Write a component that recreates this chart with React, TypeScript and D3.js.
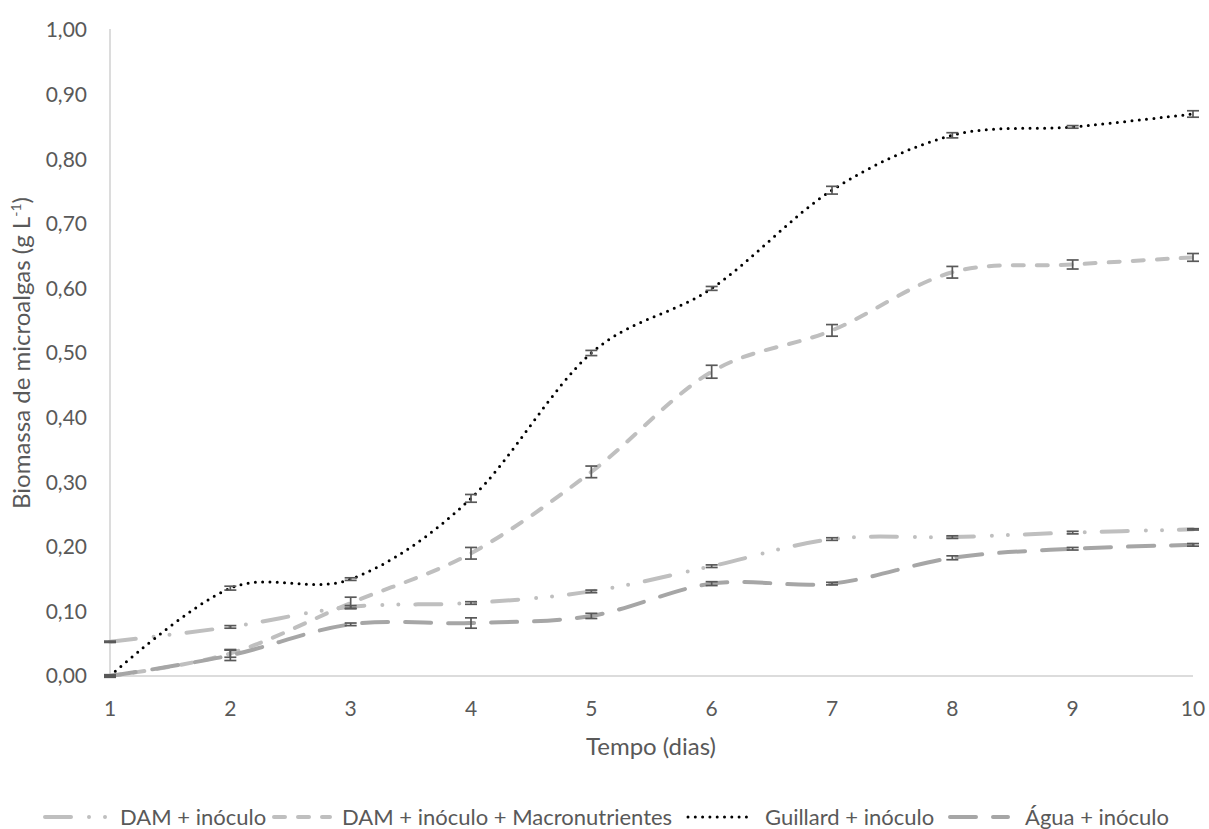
import React from "react";
import * as d3 from "d3";

const days = [1, 2, 3, 4, 5, 6, 7, 8, 9, 10];
const damInoculo = [0.053, 0.076, 0.107, 0.113, 0.131, 0.170, 0.212, 0.215, 0.222, 0.227];
const damInoculoErr = [0.001, 0.002, 0.002, 0.002, 0.002, 0.002, 0.002, 0.002, 0.002, 0.001];
const damMacro = [0.0, 0.035, 0.113, 0.190, 0.316, 0.471, 0.535, 0.625, 0.637, 0.648];
const damMacroErr = [0.001, 0.006, 0.009, 0.009, 0.009, 0.010, 0.009, 0.009, 0.007, 0.006];
const guillard = [0.0, 0.136, 0.150, 0.275, 0.500, 0.600, 0.752, 0.837, 0.850, 0.870];
const guillardErr = [0.002, 0.003, 0.002, 0.006, 0.004, 0.003, 0.006, 0.004, 0.002, 0.005];
const agua = [0.0, 0.032, 0.080, 0.082, 0.093, 0.143, 0.143, 0.183, 0.197, 0.203];
const aguaErr = [0.001, 0.008, 0.002, 0.008, 0.004, 0.003, 0.002, 0.003, 0.002, 0.002];
const yTicks = [0, 0.1, 0.2, 0.3, 0.4, 0.5, 0.6, 0.7, 0.8, 0.9, 1.0];

const seriesNames = [
  "DAM + inóculo",
  "DAM + inóculo + Macronutrientes",
  "Guillard + inóculo",
  "Água + inóculo",
];

export default function App() {
  const width = 1209;
  const height = 829;
  const x = d3.scaleLinear().domain([1, 10]).range([110, 1193]);
  const y = d3.scaleLinear().domain([0, 1]).range([676, 30]);
  const line = d3
    .line<number>()
    .x((_, i) => x(days[i]))
    .y((d) => y(d))
    .curve(d3.curveCardinal.tension(0));

  const styles = [
    { color: "#BFBFBF", width: 4, dash: "26 18 0 16 0 17" },
    { color: "#BFBFBF", width: 4, dash: "11 13" },
    { color: "#000000", width: 3, dash: "0 7.3" },
    { color: "#A6A6A6", width: 4, dash: "26 17" },
  ];
  const data = [damInoculo, damMacro, guillard, agua];
  const errs = [damInoculoErr, damMacroErr, guillardErr, aguaErr];
  const fmt = (v: number) => v.toFixed(2).replace(".", ",");
  const font = "Lato, 'Open Sans', sans-serif";

  const legendItems = [
    { sx: 45, ex: 106, tx: 120 },
    { sx: 274, ex: 330, tx: 342 },
    { sx: 688, ex: 752, tx: 765 },
    { sx: 950, ex: 1008, tx: 1025 },
  ];

  return (
    <svg width={width} height={height} style={{ position: "absolute", left: 0, top: 0 }} fontFamily={font}>
      <rect width={width} height={height} fill="#fff" />
      {/* axes */}
      <line x1={x(1)} x2={x(1)} y1={29} y2={y(0)} stroke="#D0D0D0" strokeWidth={1.5} />
      <line x1={x(1)} x2={x(10)} y1={y(0)} y2={y(0)} stroke="#D0D0D0" strokeWidth={1.5} />
      {yTicks.map((t) => (
        <text key={t} x={87} y={y(t)} dy="0.35em" textAnchor="end" fontSize={21} fill="#595959">
          {fmt(t)}
        </text>
      ))}
      {days.map((d) => (
        <text key={d} x={x(d)} y={709} dy="0.35em" textAnchor="middle" fontSize={21} fill="#595959">
          {d}
        </text>
      ))}
      <text x={651} y={747} dy="0.35em" textAnchor="middle" fontSize={24} fill="#595959">
        Tempo (dias)
      </text>
      <text transform={`translate(22,353) rotate(-90)`} textAnchor="middle" dy="0.35em" fontSize={24} fill="#595959">
        Biomassa de microalgas (g L
        <tspan dy="-9" fontSize={14}>-1</tspan>
        <tspan dy="9">)</tspan>
      </text>
      {/* lines */}
      {data.map((s, k) => (
        <path
          key={k}
          d={line(s) || ""}
          fill="none"
          stroke={styles[k].color}
          strokeWidth={styles[k].width}
          strokeDasharray={styles[k].dash}
          strokeLinecap="round"
        />
      ))}
      {/* error bars */}
      {data.map((s, k) =>
        s.map((v, i) => {
          const e = errs[k][i];
          const cx = x(days[i]);
          return (
            <g key={`${k}-${i}`} stroke="#595959" strokeWidth={1.7}>
              <line x1={cx} x2={cx} y1={y(v + e)} y2={y(v - e)} />
              <line x1={cx - 6} x2={cx + 6} y1={y(v + e)} y2={y(v + e)} />
              <line x1={cx - 6} x2={cx + 6} y1={y(v - e)} y2={y(v - e)} />
            </g>
          );
        })
      )}
      {/* legend */}
      {legendItems.map((it, k) => (
        <g key={k}>
          <line
            x1={it.sx}
            x2={it.ex}
            y1={817}
            y2={817}
            stroke={styles[k].color}
            strokeWidth={styles[k].width}
            strokeDasharray={styles[k].dash}
            strokeLinecap="round"
          />
          <text x={it.tx} y={817} dy="0.35em" fontSize={22} fill="#595959">
            {seriesNames[k]}
          </text>
        </g>
      ))}
    </svg>
  );
}
